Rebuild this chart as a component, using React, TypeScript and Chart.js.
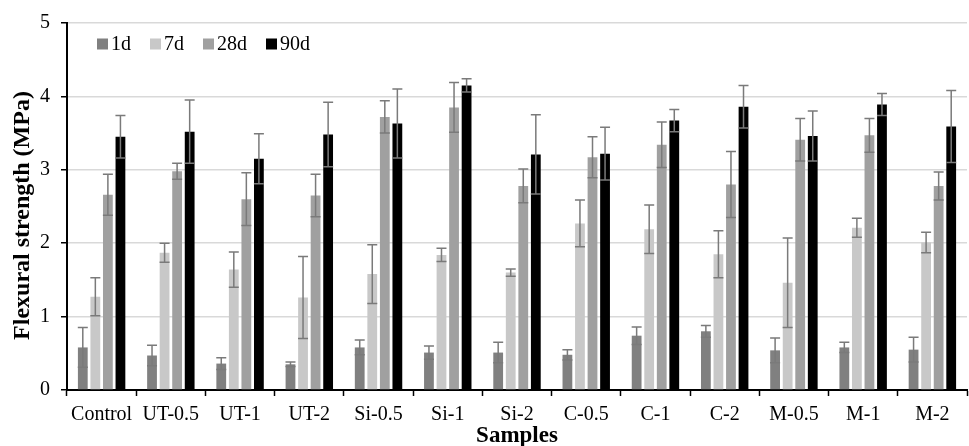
import React, { useEffect, useRef } from "react";
import { Chart, registerables } from "chart.js";

Chart.register(...registerables);

const categories = ["Control", "UT-0.5", "UT-1", "UT-2", "Si-0.5", "Si-1", "Si-2", "C-0.5", "C-1", "C-2", "M-0.5", "M-1", "M-2"];
const seriesLabels = ["1d", "7d", "28d", "90d"];

const d1 = [0.58, 0.47, 0.36, 0.35, 0.58, 0.51, 0.51, 0.48, 0.74, 0.8, 0.54, 0.58, 0.55];
const d1Err = [0.27, 0.14, 0.08, 0.03, 0.1, 0.09, 0.14, 0.07, 0.12, 0.08, 0.17, 0.07, 0.17];
const d7 = [1.27, 1.87, 1.64, 1.26, 1.58, 1.84, 1.6, 2.27, 2.19, 1.85, 1.46, 2.21, 2.01];
const d7Err = [0.26, 0.13, 0.24, 0.56, 0.4, 0.09, 0.05, 0.32, 0.33, 0.32, 0.61, 0.13, 0.14];
const d28 = [2.66, 2.98, 2.6, 2.65, 3.72, 3.85, 2.78, 3.17, 3.34, 2.8, 3.41, 3.47, 2.78];
const d28Err = [0.28, 0.11, 0.36, 0.29, 0.22, 0.34, 0.23, 0.28, 0.31, 0.45, 0.29, 0.23, 0.19];
const d90 = [3.45, 3.52, 3.15, 3.48, 3.63, 4.15, 3.21, 3.22, 3.67, 3.86, 3.46, 3.89, 3.59];
const d90Err = [0.29, 0.43, 0.34, 0.44, 0.47, 0.09, 0.54, 0.36, 0.15, 0.29, 0.34, 0.15, 0.49];

const yTicks = [0, 1, 2, 3, 4, 5];

const seriesValues = [d1, d7, d28, d90];
const seriesErrors = [d1Err, d7Err, d28Err, d90Err];
const seriesColors = ["#808080", "#c8c8c8", "#a0a0a0", "#000000"];

const FONT = "'Liberation Serif', 'Times New Roman', serif";

const errorBarPlugin = {
  id: "errorBars",
  afterDatasetsDraw(chart: any) {
    const ctx = chart.ctx;
    const yScale = chart.scales.y;
    ctx.save();
    ctx.strokeStyle = "#7a7a7a";
    ctx.lineWidth = 1.5;
    chart.data.datasets.forEach((ds: any, i: number) => {
      const meta = chart.getDatasetMeta(i);
      const errs = seriesErrors[i];
      meta.data.forEach((el: any, j: number) => {
        const v = ds.data[j];
        const e = errs[j];
        const x = el.x;
        const yt = yScale.getPixelForValue(v + e);
        const yb = yScale.getPixelForValue(Math.max(0, v - e));
        const hw = 5;
        ctx.beginPath();
        ctx.moveTo(x, yt);
        ctx.lineTo(x, yb);
        ctx.moveTo(x - hw, yt);
        ctx.lineTo(x + hw, yt);
        ctx.moveTo(x - hw, yb);
        ctx.lineTo(x + hw, yb);
        ctx.stroke();
      });
    });
    ctx.restore();
  },
};

const legendPlugin = {
  id: "innerLegend",
  afterDraw(chart: any) {
    const ctx = chart.ctx;
    ctx.save();
    ctx.font = `20px ${FONT}`;
    ctx.textBaseline = "middle";
    ctx.textAlign = "left";
    let x = chart.chartArea.left + 30;
    const yc = 44;
    chart.data.datasets.forEach((ds: any) => {
      ctx.fillStyle = ds.backgroundColor;
      ctx.fillRect(x, yc - 5.5, 11, 11);
      ctx.fillStyle = "#000";
      ctx.fillText(ds.label, x + 14, yc + 1);
      x += 14 + ctx.measureText(ds.label).width + 19;
    });
    ctx.restore();
  },
};

export default function App() {
  const ref = useRef<HTMLCanvasElement>(null);

  useEffect(() => {
    if (!ref.current) return;
    const chart = new Chart(ref.current, {
      type: "bar",
      data: {
        labels: categories,
        datasets: seriesLabels.map((label, i) => ({
          label,
          data: seriesValues[i],
          backgroundColor: seriesColors[i],
          borderWidth: 0,
          categoryPercentage: 0.725,
          barPercentage: 0.78,
        })),
      },
      options: {
        responsive: false,
        animation: false,
        layout: { padding: { left: 0, right: 2, top: 22, bottom: 0 } },
        plugins: {
          legend: { display: false },
          tooltip: { enabled: false },
          title: { display: false },
        },
        scales: {
          x: {
            grid: {
              display: true,
              drawOnChartArea: false,
              drawTicks: true,
              tickLength: 6,
              tickColor: "#000",
              tickWidth: 1.5,
              offset: true,
            },
            border: { display: true, color: "#000", width: 2 },
            ticks: {
              color: "#000",
              font: { family: FONT, size: 20 },
              padding: 7,
              maxRotation: 0,
              autoSkip: false,
            },
            title: {
              display: true,
              text: "Samples",
              color: "#000",
              font: { family: FONT, size: 23, weight: "bold", lineHeight: 0.9 },
              padding: { top: 0, bottom: 0 },
            },
            afterFit(scale: any) {
              scale.height = 56;
            },
          },
          y: {
            min: 0,
            max: 5,
            afterBuildTicks(scale: any) {
              scale.ticks = yTicks.map((v) => ({ value: v }));
            },
            grid: {
              color: "#d9d9d9",
              lineWidth: 1.5,
              tickLength: 6,
              tickColor: "#000",
              tickWidth: 1.5,
            },
            border: { display: true, color: "#000", width: 2 },
            ticks: {
              color: "#000",
              font: { family: FONT, size: 20 },
              padding: 11,
            },
            title: {
              display: true,
              text: "Flexural strength (MPa)   ",
              color: "#000",
              font: { family: FONT, size: 24, weight: "bold", lineHeight: 1.2 },
              padding: { top: 8, bottom: 0 },
            },
            afterFit(scale: any) {
              scale.width = 67;
            },
          },
        },
      },
      plugins: [errorBarPlugin, legendPlugin],
    });
    return () => chart.destroy();
  }, []);

  return (
    <div style={{ position: "absolute", left: 0, top: 0, width: 969, height: 446, background: "#fff" }}>
      <canvas ref={ref} width={969} height={446} />
    </div>
  );
}
